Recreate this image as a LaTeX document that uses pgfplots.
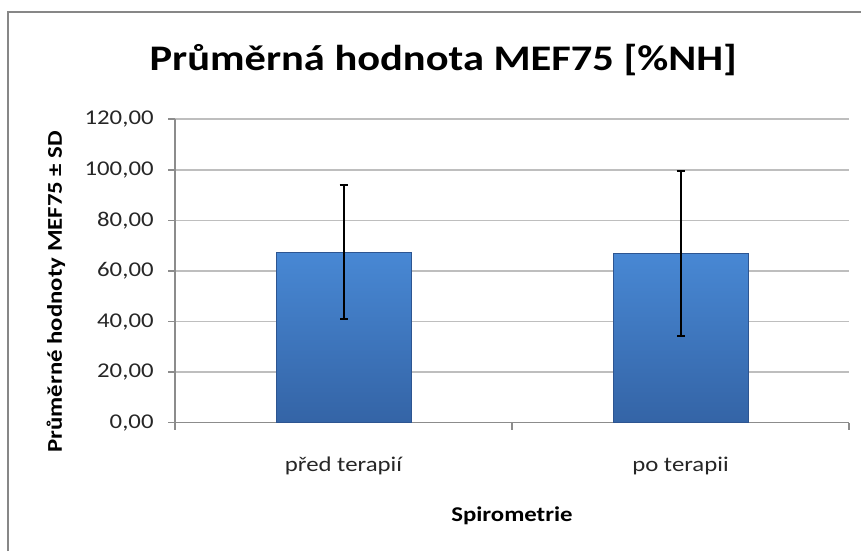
\documentclass[border=0pt]{standalone}
\usepackage{fontspec}
\setmainfont{Carlito}[FakeStretch=1.18]
\usepackage{pgfplots}
\pgfplotsset{compat=1.18}
\definecolor{gridc}{RGB}{190,190,190}
\definecolor{axc}{RGB}{140,140,140}
\definecolor{bartop}{RGB}{72,136,212}
\definecolor{barbot}{RGB}{52,100,166}
\definecolor{baredge}{RGB}{45,85,145}
\definecolor{framec}{RGB}{135,135,135}
\pgfplotstableread{
x y e
0 67.5 26.4
1 67.0 32.6
}\datatable
\begin{document}
\begin{tikzpicture}
\useasboundingbox (0,0) rectangle (430.5pt,275.5pt);
\draw[framec, line width=1pt] (4pt,0) -- (4pt,269.5pt) -- (430.5pt,269.5pt);
\begin{axis}[
  at={(87.5pt,64.15pt)}, anchor=south west,
  scale only axis, width=337pt, height=151.7pt,
  xmin=-0.5, xmax=1.5, ymin=0, ymax=120,
  ytick={0,20,...,120},
  xtick={0,1}, xticklabels={před terapií, po terapii},
  minor xtick={-0.5,0.5,1.5},
  separate axis lines,
  axis x line*=bottom, axis y line*=left,
  axis line style={axc, line width=0.8pt},
  tick align=outside,
  major tick length=3.5pt, minor tick length=3.5pt,
  tick style={axc, line width=0.8pt},
  major x tick style={draw=none},
  ymajorgrids, grid style={gridc, line width=0.8pt},
  /pgf/number format/.cd, fixed, fixed zerofill, precision=2, use comma, 1000 sep={}, assume math mode=true,
  /pgfplots/.cd,
  tick label style={font=\fontsize{10.5}{12}\selectfont, color=black!85},
  yticklabel style={anchor=east, inner sep=0pt, xshift=-7pt},
  xticklabel style={anchor=base, inner sep=0pt, yshift=-21pt},
  title={Průměrná hodnota MEF75 [\%NH]},
  title style={at={(axis description cs:0.398,1.122)}, anchor=base, inner sep=0pt, font=\fontsize{18}{21}\selectfont\bfseries},
  xlabel={Spirometrie},
  xlabel style={at={(axis description cs:0.5,-0.327)}, anchor=base, inner sep=0pt, font=\fontsize{10.5}{12}\selectfont\bfseries},
  ylabel={Průměrné hodnoty MEF75 ± SD},
  ylabel style={at={(axis description cs:-0.1766,0.432)}, anchor=center, inner sep=0pt, font=\fontsize{10.5}{12}\selectfont\bfseries},
]
\addplot[ybar, bar width=67.5pt, top color=bartop, bottom color=barbot, draw=baredge, line width=0.4pt,
  error bars/.cd, y dir=both, y explicit,
  error bar style={black, line width=1pt},
  error mark options={rotate=90, black, mark size=2pt, line width=1pt}]
  table[x=x, y=y, y error=e] {\datatable};
\end{axis}
\end{tikzpicture}
\end{document}
